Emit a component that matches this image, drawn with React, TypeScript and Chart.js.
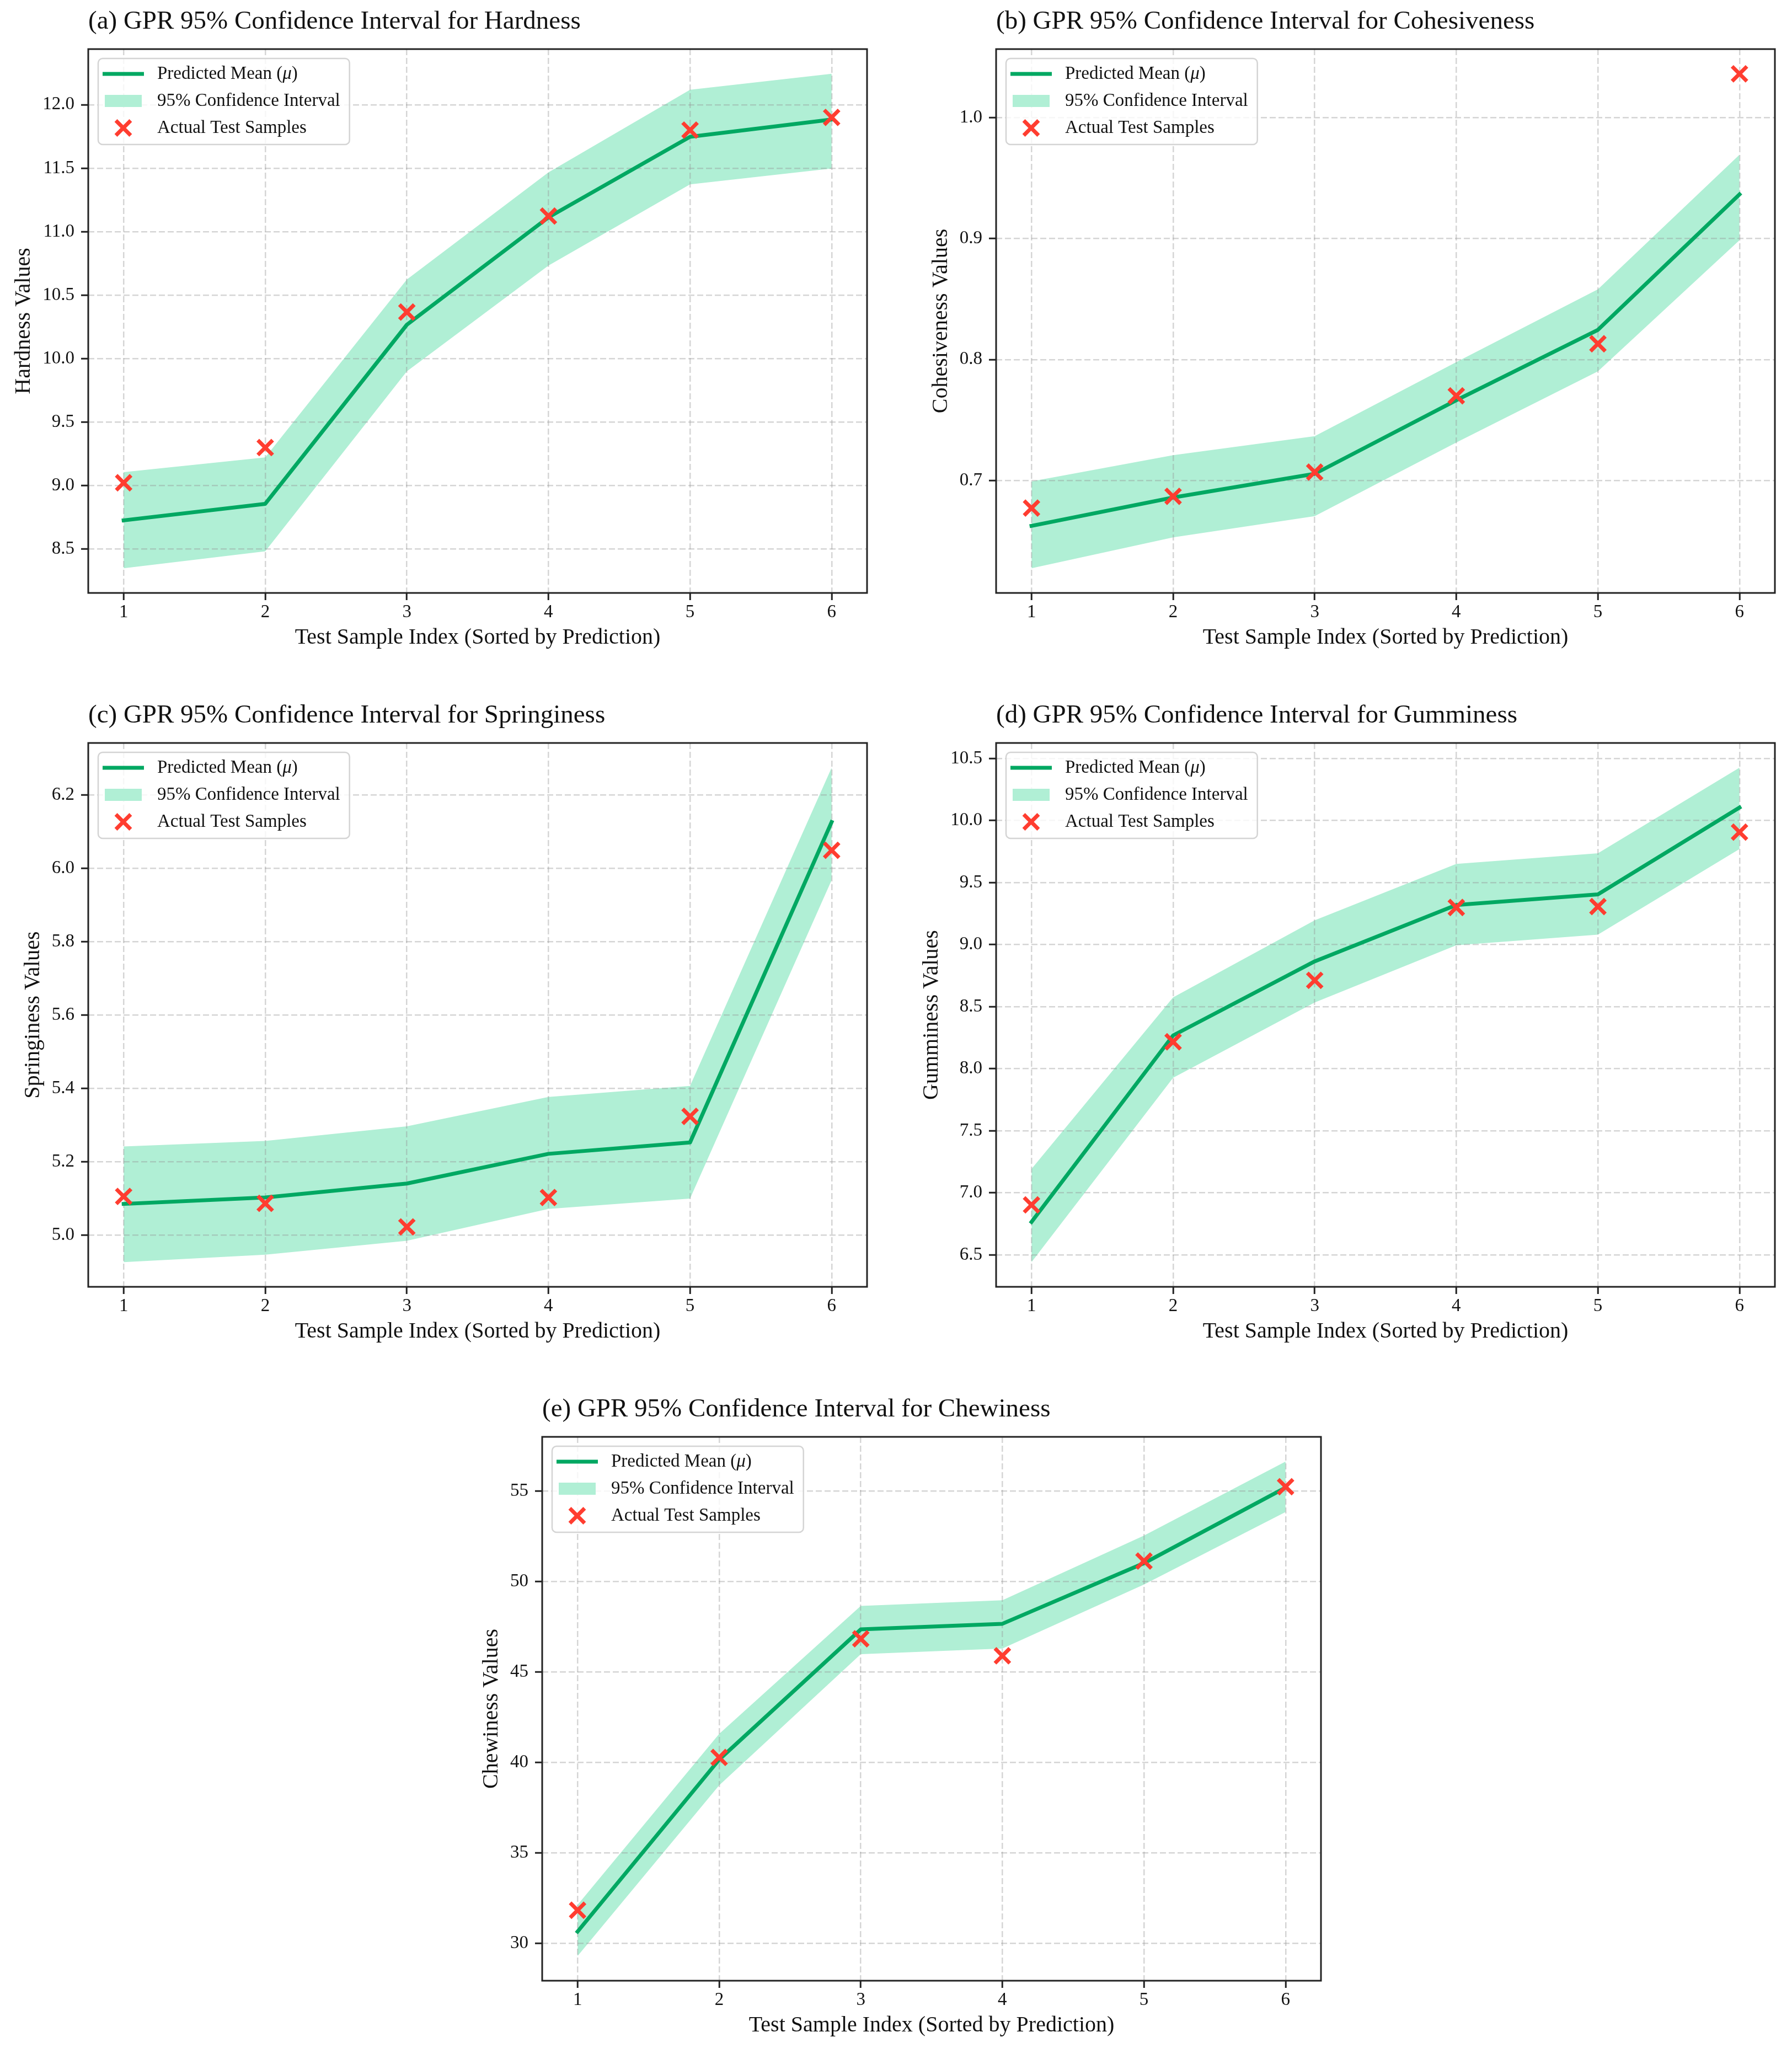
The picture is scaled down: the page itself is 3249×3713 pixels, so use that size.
import { useEffect, useRef } from "react"
import { Chart, registerables, type ChartConfiguration, type Plugin } from "chart.js"

Chart.register(...registerables)

// x positions of the sorted test samples
const sampleIndex = [1, 2, 3, 4, 5, 6]

const hardnessMean = [8.727, 8.857, 10.267, 11.113, 11.747, 11.883]
const hardnessUpper = [9.107, 9.223, 10.623, 11.467, 12.117, 12.243]
const hardnessLower = [8.35, 8.483, 9.9, 10.733, 11.373, 11.497]
const hardnessActual = [9.023, 9.3, 10.367, 11.123, 11.8, 11.9]

const cohesivenessMean = [0.6626, 0.686, 0.7056, 0.7664, 0.8245, 0.9364]
const cohesivenessUpper = [0.6993, 0.721, 0.7367, 0.7979, 0.858, 0.9692]
const cohesivenessLower = [0.6276, 0.6531, 0.6706, 0.7315, 0.7902, 0.8986]
const cohesivenessActual = [0.6773, 0.687, 0.707, 0.77, 0.813, 1.036]

const springinessMean = [5.0855, 5.103, 5.141, 5.222, 5.253, 6.126]
const springinessUpper = [5.242, 5.257, 5.297, 5.377, 5.407, 6.274]
const springinessLower = [4.927, 4.947, 4.985, 5.072, 5.1, 5.968]
const springinessActual = [5.106, 5.087, 5.023, 5.103, 5.324, 6.049]

const gumminessMean = [6.766, 8.268, 8.865, 9.319, 9.404, 10.104]
const gumminessUpper = [7.193, 8.575, 9.196, 9.65, 9.735, 10.425]
const gumminessLower = [6.442, 7.927, 8.534, 8.995, 9.08, 9.77]
const gumminessActual = [6.903, 8.217, 8.712, 9.299, 9.306, 9.906]

const chewinessMean = [30.64, 40.15, 47.35, 47.66, 51.01, 55.19]
const chewinessUpper = [32.12, 41.57, 48.65, 48.96, 52.54, 56.63]
const chewinessLower = [29.29, 38.73, 45.98, 46.29, 49.83, 53.84]
const chewinessActual = [31.82, 40.27, 46.83, 45.89, 51.13, 55.24]

const SERIF = "'Liberation Serif', 'Times New Roman', serif"
const TEXT = "#111111"
const GREEN = "#00a862"
const MINT = "rgb(176, 239, 213)"
const RED = "#ff3d30"
const GRID = "rgba(150, 150, 150, 0.4)"
const SPINE = "#222222"

// plot frame size (matplotlib axes box)
const FRAME_W = 1412
const FRAME_H = 986
const AXIS_W = 160
const TITLE_H = 89
const XAXIS_H = 120
const RIGHT_PAD = 30
const MARKER_R = 19

interface PanelSpec {
  title: string
  yLabel: string
  mean: number[]
  upper: number[]
  lower: number[]
  actual: number[]
  step: number
  decimals: number
  frameLeft: number
  frameTop: number
}

const panels: PanelSpec[] = [
  {
    title: "(a) GPR 95% Confidence Interval for Hardness",
    yLabel: "Hardness Values",
    mean: hardnessMean,
    upper: hardnessUpper,
    lower: hardnessLower,
    actual: hardnessActual,
    step: 0.5,
    decimals: 1,
    frameLeft: 160,
    frameTop: 89,
  },
  {
    title: "(b) GPR 95% Confidence Interval for Cohesiveness",
    yLabel: "Cohesiveness Values",
    mean: cohesivenessMean,
    upper: cohesivenessUpper,
    lower: cohesivenessLower,
    actual: cohesivenessActual,
    step: 0.1,
    decimals: 1,
    frameLeft: 1806,
    frameTop: 89,
  },
  {
    title: "(c) GPR 95% Confidence Interval for Springiness",
    yLabel: "Springiness Values",
    mean: springinessMean,
    upper: springinessUpper,
    lower: springinessLower,
    actual: springinessActual,
    step: 0.2,
    decimals: 1,
    frameLeft: 160,
    frameTop: 1347,
  },
  {
    title: "(d) GPR 95% Confidence Interval for Gumminess",
    yLabel: "Gumminess Values",
    mean: gumminessMean,
    upper: gumminessUpper,
    lower: gumminessLower,
    actual: gumminessActual,
    step: 0.5,
    decimals: 1,
    frameLeft: 1806,
    frameTop: 1347,
  },
  {
    title: "(e) GPR 95% Confidence Interval for Chewiness",
    yLabel: "Chewiness Values",
    mean: chewinessMean,
    upper: chewinessUpper,
    lower: chewinessLower,
    actual: chewinessActual,
    step: 5,
    decimals: 0,
    frameLeft: 983,
    frameTop: 2605,
  },
]

// matplotlib-like auto limits: data range plus 5% each side
function paddedRange(...series: number[][]) {
  const all = series.flat()
  const lo = Math.min(...all)
  const hi = Math.max(...all)
  const m = (hi - lo) * 0.05
  return [lo - m, hi + m]
}

function widestTick(min: number, max: number, step: number, decimals: number) {
  const ctx = document.createElement("canvas").getContext("2d")
  if (!ctx) return 0
  ctx.font = `33px ${SERIF}`
  let w = 0
  for (let v = Math.ceil(min / step - 1e-9) * step; v <= max + 1e-9; v += step) {
    w = Math.max(w, ctx.measureText(v.toFixed(decimals)).width)
  }
  return w
}

const framePlugin: Plugin<"line"> = {
  id: "frame",
  afterDraw(chart) {
    const { ctx, chartArea } = chart
    ctx.save()
    ctx.lineWidth = 3
    ctx.strokeStyle = SPINE
    ctx.strokeRect(chartArea.left, chartArea.top, chartArea.right - chartArea.left, chartArea.bottom - chartArea.top)
    ctx.restore()
  },
}

const legendPlugin: Plugin<"line"> = {
  id: "gprLegend",
  afterDraw(chart) {
    const { ctx, chartArea } = chart
    const L = chartArea.left
    const T = chartArea.top
    const font = `33px ${SERIF}`
    const italic = `italic 33px ${SERIF}`

    ctx.save()
    ctx.font = font
    const w1a = ctx.measureText("Predicted Mean (").width
    const w1c = ctx.measureText(")").width
    ctx.font = italic
    const w1b = ctx.measureText("μ").width
    ctx.font = font
    const widths = [w1a + w1b + w1c, ctx.measureText("95% Confidence Interval").width, ctx.measureText("Actual Test Samples").width]

    const boxX = L + 18
    const boxY = T + 17
    const textX = L + 125
    const boxW = textX - boxX + Math.max(...widths) + 17
    const boxH = 156
    const r = 8

    ctx.beginPath()
    ctx.moveTo(boxX + r, boxY)
    ctx.arcTo(boxX + boxW, boxY, boxX + boxW, boxY + boxH, r)
    ctx.arcTo(boxX + boxW, boxY + boxH, boxX, boxY + boxH, r)
    ctx.arcTo(boxX, boxY + boxH, boxX, boxY, r)
    ctx.arcTo(boxX, boxY, boxX + boxW, boxY, r)
    ctx.closePath()
    ctx.fillStyle = "rgba(255,255,255,0.8)"
    ctx.fill()
    ctx.lineWidth = 2.5
    ctx.strokeStyle = "#d4d4d4"
    ctx.stroke()

    const rows = [T + 45, T + 94, T + 143]

    // line handle
    ctx.beginPath()
    ctx.moveTo(L + 26, rows[0])
    ctx.lineTo(L + 101, rows[0])
    ctx.lineWidth = 7
    ctx.strokeStyle = GREEN
    ctx.stroke()

    // patch handle
    ctx.fillStyle = MINT
    ctx.fillRect(L + 30, rows[1] - 11, 67, 22)

    // marker handle
    const cx = L + 63.5
    const cy = rows[2]
    const h = MARKER_R * Math.SQRT1_2
    ctx.beginPath()
    ctx.moveTo(cx - h, cy - h)
    ctx.lineTo(cx + h, cy + h)
    ctx.moveTo(cx - h, cy + h)
    ctx.lineTo(cx + h, cy - h)
    ctx.lineWidth = 7
    ctx.strokeStyle = RED
    ctx.stroke()

    ctx.fillStyle = TEXT
    ctx.textBaseline = "middle"
    ctx.textAlign = "left"
    ctx.font = font
    ctx.fillText("Predicted Mean (", textX, rows[0])
    ctx.font = italic
    ctx.fillText("μ", textX + w1a, rows[0])
    ctx.font = font
    ctx.fillText(")", textX + w1a + w1b, rows[0])
    ctx.fillText("95% Confidence Interval", textX, rows[1])
    ctx.fillText("Actual Test Samples", textX, rows[2])
    ctx.restore()
  },
}

function GprPanel({ panel }: { panel: PanelSpec }) {
  const canvasRef = useRef<HTMLCanvasElement>(null)
  const chartRef = useRef<Chart | null>(null)

  const width = AXIS_W + FRAME_W + RIGHT_PAD
  const height = TITLE_H + FRAME_H + XAXIS_H

  useEffect(() => {
    if (!canvasRef.current) return
    if (chartRef.current) chartRef.current.destroy()

    const [yMin, yMax] = paddedRange(panel.lower, panel.upper, panel.actual)
    const labelW = widestTick(yMin, yMax, panel.step, panel.decimals)
    const toPoints = (vals: number[]) => sampleIndex.map((x, i) => ({ x, y: vals[i] }))

    const tickFont = { family: SERIF, size: 33 }
    const labelFont = { family: SERIF, size: 40, lineHeight: 1.2 }

    const config: ChartConfiguration<"line"> = {
      type: "line",
      data: {
        datasets: [
          {
            label: "Actual Test Samples",
            data: toPoints(panel.actual),
            showLine: false,
            pointStyle: "crossRot",
            pointRadius: MARKER_R,
            pointBorderWidth: 7,
            pointBorderColor: RED,
            pointBackgroundColor: RED,
            order: 1,
          },
          {
            label: "Predicted Mean (μ)",
            data: toPoints(panel.mean),
            borderColor: GREEN,
            borderWidth: 7,
            borderCapStyle: "square",
            borderJoinStyle: "round",
            pointRadius: 0,
            tension: 0,
            fill: false,
            order: 2,
          },
          {
            label: "95% Confidence Interval",
            data: toPoints(panel.upper),
            borderWidth: 0,
            borderColor: "transparent",
            backgroundColor: MINT,
            pointRadius: 0,
            tension: 0,
            fill: "+1",
            order: 3,
          },
          {
            label: "lower",
            data: toPoints(panel.lower),
            borderWidth: 0,
            borderColor: "transparent",
            pointRadius: 0,
            tension: 0,
            fill: false,
            order: 4,
          },
        ],
      },
      options: {
        responsive: false,
        animation: false,
        devicePixelRatio: 1,
        events: [],
        layout: { padding: { left: 0, top: 0, right: RIGHT_PAD, bottom: 0 } },
        plugins: {
          legend: { display: false },
          tooltip: { enabled: false },
          filler: { drawTime: "beforeDraw" },
          title: {
            display: true,
            text: panel.title,
            align: "start",
            fullSize: false,
            color: TEXT,
            font: { family: SERIF, size: 47, lineHeight: 1.2, weight: "normal" },
            padding: { top: 11.8, bottom: 20.8 },
          },
        },
        scales: {
          x: {
            type: "linear",
            min: 0.75,
            max: 6.25,
            afterFit: (scale) => {
              scale.height = XAXIS_H
            },
            ticks: {
              stepSize: 1,
              includeBounds: false,
              padding: 3,
              color: TEXT,
              font: tickFont,
            },
            grid: {
              color: GRID,
              lineWidth: 2.5,
              tickLength: 13,
              tickWidth: 3,
              tickColor: SPINE,
            },
            border: { display: false, dash: [11, 5] },
            title: {
              display: true,
              text: "Test Sample Index (Sorted by Prediction)",
              color: TEXT,
              font: labelFont,
              padding: { top: 0, bottom: 15 },
            },
          },
          y: {
            type: "linear",
            min: yMin,
            max: yMax,
            afterFit: (scale) => {
              scale.width = AXIS_W
            },
            ticks: {
              stepSize: panel.step,
              includeBounds: false,
              padding: 12,
              color: TEXT,
              font: tickFont,
              callback: (v) => Number(v).toFixed(panel.decimals),
            },
            grid: {
              color: GRID,
              lineWidth: 2.5,
              tickLength: 13,
              tickWidth: 3,
              tickColor: SPINE,
            },
            border: { display: false, dash: [11, 5] },
            title: {
              display: true,
              text: panel.yLabel,
              color: TEXT,
              font: labelFont,
              padding: { top: 77.5 - labelW, bottom: 0 },
            },
          },
        },
      },
      plugins: [framePlugin, legendPlugin],
    }

    chartRef.current = new Chart(canvasRef.current, config)

    return () => {
      if (chartRef.current) {
        chartRef.current.destroy()
        chartRef.current = null
      }
    }
  }, [panel])

  return (
    <canvas
      ref={canvasRef}
      width={width}
      height={height}
      style={{
        position: "absolute",
        left: panel.frameLeft - AXIS_W,
        top: panel.frameTop - TITLE_H,
        width,
        height,
      }}
    />
  )
}

export default function App() {
  return (
    <div
      style={{
        position: "absolute",
        left: 0,
        top: 0,
        width: 3249,
        height: 3713,
        background: "#ffffff",
        overflow: "hidden",
      }}
    >
      {panels.map((p) => (
        <GprPanel key={p.title} panel={p} />
      ))}
    </div>
  )
}
